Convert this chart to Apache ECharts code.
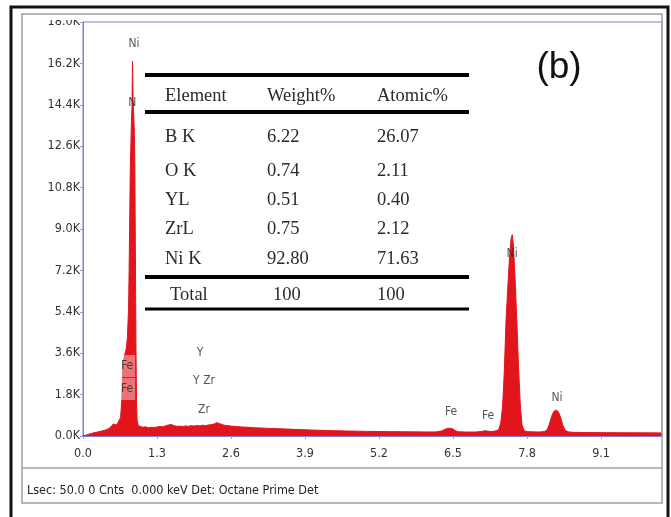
<!DOCTYPE html>
<html>
<head>
<meta charset="utf-8">
<script src="https://cdn.jsdelivr.net/npm/echarts@6/dist/echarts.min.js"></script>
<style>
  html, body { margin: 0; padding: 0; background: #fff; }
  #chart { width: 671px; height: 517px; }
</style>
</head>
<body>
<div id="chart"></div>
<script>
// EDS spectrum: energy (keV) and counts
const energyKeV = [
  0.00, 0.05, 0.10, 0.15, 0.20, 0.25, 0.30, 0.35, 0.40, 0.45, 0.50, 0.53, 0.56, 0.59, 0.62,
  0.66, 0.68, 0.70, 0.72, 0.74, 0.76, 0.78, 0.80, 0.81, 0.83, 0.85, 0.86, 0.87, 0.88, 0.89,
  0.90, 0.91, 0.92, 0.93, 0.94, 0.95, 0.97,
  1.00, 1.05, 1.10, 1.15, 1.20, 1.25, 1.30, 1.35, 1.40, 1.45, 1.50, 1.55, 1.60, 1.65, 1.70,
  1.75, 1.80, 1.85, 1.90, 1.95, 2.00, 2.05, 2.10, 2.15, 2.20, 2.25, 2.30, 2.35, 2.40, 2.45,
  2.50, 2.55, 2.60, 2.70, 2.80, 2.90, 3.00, 3.10, 3.20, 3.30, 3.40, 3.50, 3.60, 3.70, 3.80,
  3.90, 4.00, 4.10, 4.20, 4.30, 4.40, 4.50, 4.60, 4.70, 4.80, 4.90, 5.00, 5.20, 5.40, 5.60,
  5.80, 6.00, 6.20, 6.30, 6.35, 6.40, 6.45, 6.50, 6.55, 6.60, 6.70, 6.80, 6.90, 7.00, 7.05,
  7.10, 7.15, 7.20, 7.25, 7.30, 7.34, 7.37, 7.40, 7.43, 7.46, 7.49, 7.52, 7.54, 7.56, 7.59,
  7.62, 7.65, 7.68, 7.71, 7.75, 7.80, 7.90, 8.00, 8.10, 8.15, 8.19, 8.23, 8.27, 8.31, 8.35,
  8.39, 8.43, 8.47, 8.52, 8.60, 8.80, 9.00, 9.20, 9.40, 9.60, 9.80, 10.00, 10.17
];
const counts = [
  0, 30, 80, 110, 150, 170, 200, 230, 260, 320, 420, 520, 600, 480, 560,
  800, 1500, 3000, 3400, 3600, 3800, 4300, 5500, 7200, 11500, 13600, 14300, 16300, 14600, 14000,
  13400, 12000, 8000, 4000, 1500, 700, 450,
  420, 380, 400, 360, 380, 370, 390, 410, 400, 440, 480, 500, 450, 420, 430,
  410, 440, 420, 450, 430, 460, 440, 470, 450, 480, 490, 520, 580, 540, 490,
  460, 450, 430, 410, 390, 380, 360, 350, 340, 330, 320, 310, 300, 290, 280,
  270, 260, 255, 245, 240, 230, 225, 220, 215, 210, 205, 200, 195, 190, 185,
  180, 176, 178, 220, 280, 330, 340, 300, 220, 185, 175, 172, 175, 195, 225,
  215, 195, 195, 225, 260, 600, 1300, 2800, 5000, 6400, 7700, 8600, 8750, 8300, 6800,
  5000, 3000, 1400, 500, 230, 190, 180, 175, 190, 260, 500, 850, 1070, 1130, 1050,
  800, 450, 250, 180, 160, 150, 148, 145, 142, 140, 138, 136, 135
];

// Peak identification labels: text, energy (keV), counts position
const peakNames  = ['Ni', 'N', 'Fe', 'Fe', 'Y', 'Y Zr', 'Zr', 'Fe', 'Fe', 'Ni', 'Ni'];
const peakEnergy = [0.896, 0.866, 0.773, 0.773, 2.056, 2.126, 2.126, 6.465, 7.115, 7.537, 8.327];
const peakCounts = [17043, 14478, 3043, 2043, 3609, 2391, 1130, 1043, 870, 7913, 1652];
const peakBoxed  = [false, false, true, true, false, false, false, false, false, false, false];

// Quantification table
const tableHeader  = ['Element', 'Weight%', 'Atomic%'];
const elementNames = ['B K', 'O K', 'YL', 'ZrL', 'Ni K'];
const weightPct    = ['6.22', '0.74', '0.51', '0.75', '92.80'];
const atomicPct    = ['26.07', '2.11', '0.40', '2.12', '71.63'];
const totalRow     = ['Total', '100', '100'];

// Axis ticks
const xTickStep = 1.3, xMax = 10.17;
const yTickStep = 1800, yMax = 18000;

const footerText = 'Lsec: 50.0 0 Cnts  0.000 keV Det: Octane Prime Det';

const uiFont = "'Liberation Sans Narrow', 'DejaVu Sans Condensed', 'Open Sans', sans-serif";
const serifFont = "'Liberation Serif', 'DejaVu Serif', serif";
const axisBlue = '#7d7dd8';

const spectrum = energyKeV.map((e, i) => [e, counts[i]]);
const peakPoints = peakEnergy.map((e, i) => ({
  value: [e, peakCounts[i]],
  label: peakBoxed[i]
    ? { backgroundColor: 'rgba(255,255,255,0.5)', padding: [5, 2, 5, 2] }
    : {}
}));

// Table drawn with graphic elements
const tblLeft = 145, tblRight = 469;
const colX = [165, 267, 377];
const rowY = [137, 171, 200, 229, 259];
const tableGraphics = [];
[[75, 4], [112, 4], [277, 4], [309, 3]].forEach(([y, w]) => {
  tableGraphics.push({
    type: 'line', z: 50,
    shape: { x1: tblLeft, y1: y, x2: tblRight, y2: y },
    style: { stroke: '#000', lineWidth: w }
  });
});
const tText = (str, x, y) => ({
  type: 'text', z: 50, x: x, y: y,
  style: { text: str, font: '18.5px ' + serifFont, fill: '#2a2a2a', textVerticalAlign: 'middle' }
});
tableHeader.forEach((h, j) => tableGraphics.push(tText(h, colX[j], 96)));
elementNames.forEach((n, i) => {
  tableGraphics.push(tText(n, colX[0], rowY[i]));
  tableGraphics.push(tText(weightPct[i], colX[1], rowY[i]));
  tableGraphics.push(tText(atomicPct[i], colX[2], rowY[i]));
});
tableGraphics.push(tText(totalRow[0], 170, 295));
tableGraphics.push(tText(totalRow[1], 273, 295));
tableGraphics.push(tText(totalRow[2], colX[2], 295));

const chart = echarts.init(document.getElementById('chart'), null, { renderer: 'canvas' });
chart.setOption({
  animation: false,
  backgroundColor: '#fff',
  grid: {
    left: 83, right: 9, top: 22, bottom: 81,
    show: true, borderColor: axisBlue, borderWidth: 1, backgroundColor: 'transparent'
  },
  xAxis: {
    type: 'value', min: 0, max: xMax, interval: xTickStep,
    axisLine: { show: true, onZero: false, lineStyle: { color: axisBlue, width: 2 } },
    axisTick: { show: true, length: 3, lineStyle: { color: '#9a9ac8' } },
    splitLine: { show: false },
    axisLabel: {
      showMaxLabel: false, margin: 11,
      color: '#333', fontSize: 12.5, fontFamily: uiFont,
      formatter: v => v.toFixed(1)
    }
  },
  yAxis: {
    type: 'value', min: 0, max: yMax, interval: yTickStep,
    axisLine: { show: true, lineStyle: { color: axisBlue, width: 1 } },
    axisTick: { show: true, length: 3, lineStyle: { color: '#9a9ac8' } },
    splitLine: { show: false },
    axisLabel: {
      margin: 3, color: '#333', fontSize: 12.5, fontFamily: uiFont,
      formatter: v => (v / 1000).toFixed(1) + 'K'
    }
  },
  series: [
    {
      type: 'line', data: spectrum, showSymbol: false, symbol: 'none',
      lineStyle: { color: '#e2151d', width: 1 },
      areaStyle: { color: '#e2151d', opacity: 1 },
      z: 3
    },
    {
      type: 'scatter', data: peakPoints, symbolSize: 0, z: 5,
      label: {
        show: true, position: 'inside',
        formatter: p => peakNames[p.dataIndex],
        color: '#2a2a2a', fontSize: 12, fontFamily: uiFont
      }
    }
  ],
  graphic: [
    // outer black frame (open at the bottom)
    { type: 'polyline', z: 60, shape: { points: [[11, 517], [11, 7], [668, 7], [668, 517]] },
      style: { stroke: '#111', lineWidth: 3, fill: null } },
    // inner panel border
    { type: 'rect', z: 40, shape: { x: 22, y: 14, width: 640, height: 489 },
      style: { stroke: '#a0a0a0', lineWidth: 1.5, fill: null } },
    // top of the axis area is clipped by the panel
    { type: 'rect', z: 45, shape: { x: 23, y: 15, width: 57, height: 5 },
      style: { fill: '#fff' } },
    // footer separator
    { type: 'line', z: 40, shape: { x1: 22, y1: 468, x2: 662, y2: 468 },
      style: { stroke: '#a0a0a0', lineWidth: 1.5 } },
    { type: 'text', z: 40, x: 27, y: 491,
      style: { text: footerText, font: '12.5px ' + uiFont, fill: '#222', textVerticalAlign: 'middle' } },
    { type: 'text', z: 50, x: 559, y: 68,
      style: { text: '(b)', font: '37px \'Liberation Sans\', Arial, sans-serif', fill: '#111',
               textAlign: 'center', textVerticalAlign: 'middle' } }
  ].concat(tableGraphics)
});
</script>
</body>
</html>
